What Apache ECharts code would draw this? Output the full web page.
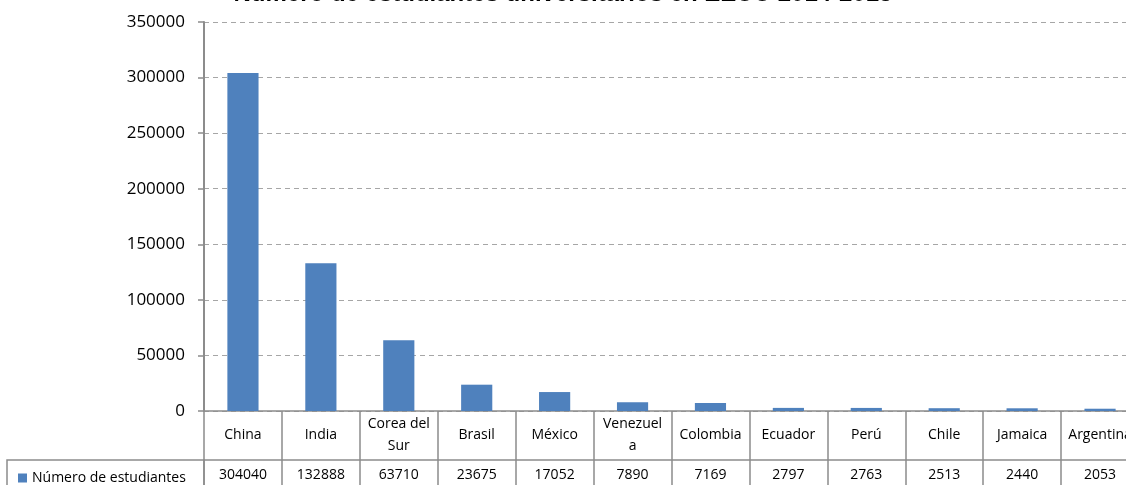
<!DOCTYPE html>
<html>
<head>
<meta charset="utf-8">
<script src="https://cdn.jsdelivr.net/npm/echarts@6/dist/echarts.min.js"></script>
<style>
  html, body { margin: 0; padding: 0; background: #fff; }
  #barChart { width: 1126px; height: 485px; }
</style>
</head>
<body>
<div id="barChart"></div>
<script>
  // datos
  let titleText = 'Número de estudiantes universitarios en EEUU 2014-2015'
  let seriesName = 'Número de estudiantes'
  let xData = ['China', 'India', 'Corea del\nSur', 'Brasil', 'México', 'Venezuel\na', 'Colombia', 'Ecuador', 'Perú', 'Chile', 'Jamaica', 'Argentina']
  let ydata = [304040, 132888, 63710, 23675, 17052, 7890, 7169, 2797, 2763, 2513, 2440, 2053]
  let yTicks = { min: 0, max: 350000, interval: 50000 }

  let lineColor = '#8c8c8c'
  let font = '"Open Sans", "Noto Sans", sans-serif'

  let dom = document.getElementById('barChart')
  let option = {
    color: ['#4F81BD'],
    animation: false,
    title: {
      text: titleText,
      left: 'center',
      top: -23,
      textStyle: {
        color: '#000',
        fontSize: 24,
        fontWeight: 'bold',
        fontFamily: 'Liberation Sans, Arial, sans-serif',
      },
    },
    legend: {
      left: 13,
      top: 466,
      icon: 'rect',
      itemWidth: 9,
      itemHeight: 9,
      itemGap: 5,
      textStyle: {
        color: '#000',
        fontSize: 14,
        fontFamily: font,
      },
      data: [seriesName],
    },
    grid: {
      left: 204,
      top: 22,
      width: 935,
      height: 389,
      outerBoundsMode: 'none',
      containLabel: false,
    },
    // recuadro de la fila de la tabla
    graphic: [
      {
        type: 'rect',
        shape: { x: 7, y: 460, width: 197, height: 40 },
        style: { fill: 'none', stroke: lineColor, lineWidth: 1.5 },
      },
    ],
    xAxis: [
      {
        type: 'category',
        data: xData,
        position: 'bottom',
        axisLine: { show: true, lineStyle: { color: lineColor, width: 1.5 } },
        axisTick: { show: true, length: 49, interval: 0, lineStyle: { color: lineColor, width: 1.5 } },
        axisLabel: {
          interval: 0,
          margin: 24,
          verticalAlign: 'middle',
          lineHeight: 22,
          color: '#000',
          fontSize: 14,
          fontFamily: font,
        },
        splitLine: { show: false },
      },
      {
        type: 'category',
        data: xData,
        position: 'bottom',
        offset: 49,
        axisLine: { show: true, lineStyle: { color: lineColor, width: 1.5 } },
        axisTick: { show: true, length: 40, interval: 0, lineStyle: { color: lineColor, width: 1.5 } },
        axisLabel: {
          interval: 0,
          margin: 15,
          verticalAlign: 'middle',
          color: '#000',
          fontSize: 14,
          fontFamily: font,
          formatter: (v, i) => String(ydata[i]),
        },
        splitLine: { show: false },
      },
    ],
    yAxis: {
      type: 'value',
      min: yTicks.min,
      max: yTicks.max,
      interval: yTicks.interval,
      axisLine: { show: true, lineStyle: { color: lineColor, width: 2 } },
      axisTick: { show: true, length: 6, lineStyle: { color: lineColor, width: 1.5 } },
      axisLabel: {
        margin: 19,
        color: '#000',
        fontSize: 17,
        fontFamily: font,
        formatter: (v) => String(v),
      },
      splitLine: {
        show: true,
        lineStyle: { color: '#a6a6a6', type: [5, 4], width: 1.2 },
      },
    },
    series: [
      {
        name: seriesName,
        type: 'bar',
        xAxisIndex: 0,
        data: ydata,
        barWidth: '40%',
        itemStyle: { color: '#4F81BD' },
      },
    ],
  }
  let myChart = echarts.init(dom)
  myChart.setOption(option)
</script>
</body>
</html>
